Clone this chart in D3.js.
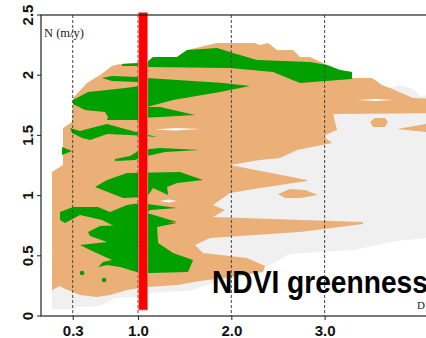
<!DOCTYPE html>
<html>
<head>
<meta charset="utf-8">
<script src="https://cdn.jsdelivr.net/npm/d3@7"></script>
<style>
body{margin:0;background:#fff;}
svg{display:block;}
</style>
</head>
<body>
<div id="app"></div>
<script>
// ticks
const xTicks = [0.3, 1.0, 2.0, 3.0];
const xTickLabels = ["0.3", "1.0", "2.0", "3.0"];
const yTicks = [0, 0.5, 1, 1.5, 2, 2.5];
const yTickLabels = ["0", "0.5", "1", "1.5", "2", "2.5"];

// marker band (depth, N range)
const markerDepth = 1.055;
const markerRange = [0.05, 2.52];

// outlines, [depth, N (m/y)]
const grayArea = [[0.078,1.13],[0.078,0.058],[0.325,0.058],[0.346,0.075],[0.593,0.083],[0.753,0.150],[1.0,0.158],
	[1.096,0.191],[1.557,0.208],[1.665,0.241],[2.093,0.324],[2.393,0.415],[2.629,0.515],[3.304,0.548],[3.776,0.623],
	[4.24,0.66],[4.24,1.84],[4.023,1.827],[3.948,1.885],[3.808,1.919],[3.701,1.894],[1.129,1.836],[0.164,1.213]];

const tanArea = [[0.807,2.093],[1.096,2.110],[1.161,2.151],[1.418,2.151],[1.525,2.209],[1.847,2.267],[2.254,2.267],
	[2.307,2.251],[2.393,2.267],[2.490,2.209],[2.661,2.209],[2.736,2.151],[2.844,2.151],[3.026,2.085],[3.165,2.043],
	[3.293,2.027],[3.293,1.977],[3.508,1.977],[3.615,1.919],[3.701,1.894],[3.948,1.811],[4.24,1.802],[4.24,1.686],
	[3.090,1.678],[3.133,1.545],[2.983,1.495],[3.079,1.437],[2.704,1.379],[2.522,1.312],[2.307,1.296],[1.986,1.254],
	[2.811,1.130],[2.811,1.121],[2.307,1.063],[1.986,1.022],[1.804,0.922],[1.932,0.880],[1.804,0.822],[3.412,0.781],
	[3.412,0.764],[2.736,0.698],[1.772,0.648],[1.611,0.590],[1.697,0.523],[2.168,0.482],[2.361,0.415],[2.340,0.365],
	[1.986,0.324],[1.665,0.291],[1.418,0.257],[1.096,0.241],[0.882,0.216],[0.700,0.174],[0.561,0.158],[0.378,0.174],
	[0.196,0.233],[0.164,0.249],[0.078,0.216],[0.078,1.196],[0.196,1.254],[0.196,1.561],[0.293,1.611],[0.303,1.811],
	[0.453,1.935],[0.593,2.002],[0.721,2.076]];

const tanIslands = [
	[[3.487,1.611],[3.540,1.645],[3.647,1.645],[3.679,1.611],[3.647,1.570],[3.519,1.570]],
	[[3.776,1.553],[4.087,1.595],[4.24,1.603],[4.24,1.520],[4.087,1.528]],
	[[2.501,1.013],[2.629,1.055],[2.790,1.047],[2.929,1.005],[2.736,0.980],[2.575,0.980]]
];

const whiteStreaks = [
	[[1.182,1.549],[1.397,1.562],[1.665,1.553],[1.397,1.541]],
	[[1.236,0.955],[1.33,0.968],[1.418,0.955],[1.33,0.943]],
	[[3.347,1.794],[3.55,1.802],[3.736,1.794],[3.55,1.786]]
];

const greenAreas = [
	[[0.829,2.093],[1.021,2.101],[1.096,2.110],[1.161,2.151],[1.418,2.151],[1.525,2.209],[1.847,2.226],[2.018,2.184],
	 [2.276,2.126],[2.844,2.110],[3.026,2.085],[3.165,2.043],[3.293,2.027],[3.293,1.968],[2.736,1.935],[2.447,2.027],
	 [1.986,2.060],[1.096,2.068],[1.021,2.076],[0.829,2.076]],
	[[0.614,1.977],[0.721,1.993],[1.0,1.985],[1.096,1.977],[1.911,1.935],[2.200,1.910],[1.879,1.860],[1.375,1.794],
	 [1.096,1.736],[1.021,1.794],[1.0,1.944],[0.721,1.952]],
	[[0.303,1.794],[0.464,1.860],[0.668,1.877],[0.861,1.894],[1.021,1.910],[1.021,1.628],[0.668,1.628],[0.678,1.653],
	 [0.646,1.694],[0.432,1.711],[0.303,1.761]],
	[[1.021,1.736],[1.236,1.736],[1.611,1.669],[1.236,1.653],[1.021,1.645]],
	[[0.271,1.561],[0.378,1.537],[0.539,1.570],[0.668,1.595],[0.861,1.553],[1.021,1.520],[1.204,1.487],[0.914,1.503],
	 [0.668,1.512],[0.486,1.462],[0.400,1.478],[0.293,1.520]],
	[[0.185,1.404],[0.293,1.370],[0.185,1.337]],
	[[0.755,1.304],[0.914,1.329],[1.021,1.379],[1.236,1.395],[1.665,1.379],[1.289,1.362],[1.096,1.329],[0.968,1.296],
	 [0.755,1.287]],
	[[0.539,1.071],[0.668,1.130],[0.882,1.188],[1.450,1.196],[1.697,1.130],[1.418,1.105],[1.311,1.071],[1.322,1.005],
	 [1.161,1.063],[1.096,0.988],[0.839,0.980]],
	[[0.164,0.864],[0.303,0.905],[0.571,0.905],[0.700,0.864],[0.882,0.922],[1.021,0.939],[1.418,0.897],[1.129,0.880],
	 [1.096,0.855],[1.418,0.781],[1.129,0.772],[1.021,0.739],[0.882,0.714],[0.721,0.756],[0.614,0.797],[0.378,0.839],
	 [0.218,0.772],[0.164,0.797]],
	[[0.464,0.698],[0.593,0.748],[0.861,0.756],[1.096,0.797],[1.418,0.772],[1.204,0.739],[1.215,0.606],[1.375,0.523],
	 [1.590,0.465],[1.536,0.365],[1.129,0.357],[1.021,0.357],[0.807,0.407],[0.668,0.424],[0.571,0.407],[0.625,0.449],
	 [0.721,0.465],[0.486,0.548],[0.378,0.590],[0.668,0.615],[0.486,0.664]]
];
const greenDots = [[0.40,0.357],[0.636,0.299]];

const colGray = "#f0f0f0", colTan = "#eab078", colGreen = "#00a000", colRed = "#ff0000";

const W = 426, H = 338;
const svg = d3.select("#app").append("svg").attr("width", W).attr("height", H);

const x = d3.scaleLinear().domain([-0.04, 4.3]).range([41, 41 + 4.34*93.3]);
const y = d3.scaleLinear().domain([0, 2.5]).range([316, 15]);

const line = d3.line().x(d => x(d[0])).y(d => y(d[1])).curve(d3.curveLinearClosed);

const plot = svg.append("g");
plot.append("path").attr("d", line(grayArea)).attr("fill", colGray);
plot.append("path").attr("d", line(tanArea)).attr("fill", colTan);
plot.selectAll("path.tanis").data(tanIslands).enter().append("path")
	.attr("class","tanis").attr("d", line).attr("fill", colTan);
plot.selectAll("path.white").data(whiteStreaks).enter().append("path")
	.attr("class","white").attr("d", line).attr("fill", "#fff");
plot.selectAll("path.green").data(greenAreas).enter().append("path")
	.attr("class","green").attr("d", line).attr("fill", colGreen);
plot.selectAll("circle.gdot").data(greenDots).enter().append("circle")
	.attr("class","gdot").attr("cx", d => x(d[0])).attr("cy", d => y(d[1])).attr("r", 2.3).attr("fill", colGreen);

// dashed guides
svg.selectAll("line.guide").data(xTicks).enter().append("line")
	.attr("class","guide")
	.attr("x1", d => x(d)).attr("x2", d => x(d))
	.attr("y1", y(2.5)).attr("y2", y(0))
	.attr("stroke", "#444").attr("stroke-width", 1).attr("stroke-dasharray", "3,2");

// red marker
svg.append("rect")
	.attr("x", x(markerDepth) - 4.5).attr("width", 9)
	.attr("y", y(markerRange[1])).attr("height", y(markerRange[0]) - y(markerRange[1]))
	.attr("fill", colRed).attr("stroke", "#e88").attr("stroke-width", 0.8);

// frame
svg.append("rect")
	.attr("x", x(-0.04)).attr("y", y(2.5))
	.attr("width", x(4.3) - x(-0.04)).attr("height", y(0) - y(2.5))
	.attr("fill", "none").attr("stroke", "#222").attr("stroke-width", 1.2);

// y axis
const yAxis = d3.axisLeft(y).tickValues(yTicks).tickSize(4).tickFormat((d,i) => yTickLabels[i]);
const gy = svg.append("g").attr("transform", `translate(${x(-0.04)},0)`).call(yAxis);
gy.select(".domain").remove();
gy.selectAll("text")
	.attr("x", 0).attr("dy", null)
	.attr("text-anchor", "middle")
	.attr("transform", d => `translate(-8,${0}) rotate(-90,0,${y(d)})`)
	.attr("y", d => y(d))
	.style("font", "bold 15px 'Liberation Sans', Arial, sans-serif").attr("fill", "#111");
gy.selectAll(".tick").attr("transform", null);
gy.selectAll(".tick line").attr("y1", d => y(d)).attr("y2", d => y(d)).attr("stroke", "#222");

// x axis
const xAxis = d3.axisBottom(x).tickValues(xTicks).tickSize(4).tickFormat((d,i) => xTickLabels[i]);
const gx = svg.append("g").attr("transform", `translate(0,${y(0)})`).call(xAxis);
gx.select(".domain").remove();
gx.selectAll(".tick line").attr("stroke", "#222");
gx.selectAll("text").attr("y", 9).attr("dy", "0.71em")
	.style("font", "bold 15px 'Liberation Sans', Arial, sans-serif").attr("fill", "#111");

// labels
svg.append("text").attr("x", 44).attr("y", 37).text("N (m/y)")
	.style("font", "12.5px 'Liberation Serif', 'Times New Roman', serif").attr("fill", "#222");
svg.append("text").attr("transform", "translate(212,293) scale(0.88,1)").text("NDVI greenness")
	.style("font", "bold 32px 'Liberation Sans', Arial, sans-serif").attr("fill", "#000");
svg.append("text").attr("x", 417).attr("y", 309).text("D")
	.style("font", "11px 'Liberation Serif', 'Times New Roman', serif").attr("fill", "#222");
</script>
</body>
</html>
